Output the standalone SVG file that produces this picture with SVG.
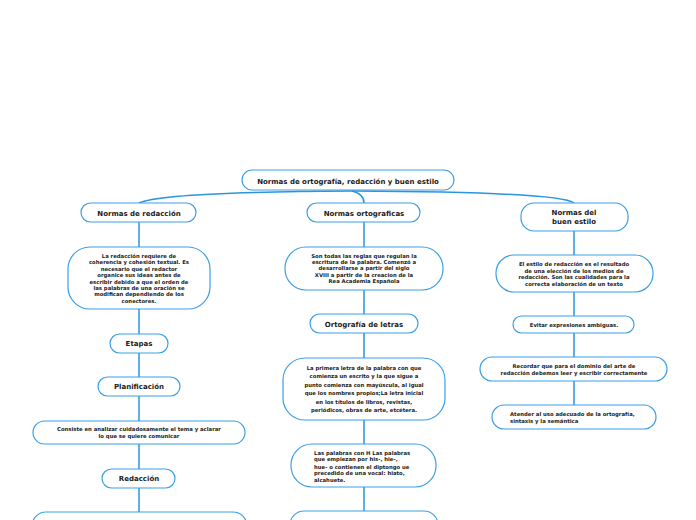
<svg xmlns="http://www.w3.org/2000/svg" width="696" height="520" viewBox="0 0 696 520">
<style>
.n{fill:#fff;stroke:#3a9fe6;stroke-width:1.2}
.c{fill:none;stroke:#2a95de;stroke-width:1.5}
text{font-family:"DejaVu Sans","Verdana",sans-serif;font-weight:bold;fill:#1a1a1a;text-anchor:middle}
.t{font-size:7px}
.s{font-size:5.3px}
.l{text-anchor:start}
</style>
<rect width="696" height="520" fill="#fff"/>
<g id="connectors">
<path class="c" d="M352,191 Q160,192 139,203"/>
<path class="c" d="M352,191 Q364,194 364,203"/>
<path class="c" d="M352,191 Q560,192 574,203"/>
<path class="c" d="M139,222V247M139,309V334M139,353V377M139,396V421M139,444V469M139,488V512"/>
<path class="c" d="M364,222V247M364,290V314M364,333V358M364,420V444M364,487V511"/>
<path class="c" d="M574,231V255M574,292V316M574,333V357M574,381V405"/>
</g>
<g id="root"><rect class="n" x="242" y="170" width="212" height="20" rx="10"/><text class="t" x="348" y="183.5">Normas de ortografía, redacción y buen estilo</text></g>
<g id="redaccion"><rect class="n" x="81" y="203" width="115" height="19" rx="9.5"/><text class="t" x="139" y="215.5">Normas de redacción</text></g>
<g id="ortograficas"><rect class="n" x="307" y="203" width="113" height="19" rx="9.5"/><text class="t" x="364" y="215.5">Normas ortograficas</text></g>
<g id="buenestilo"><rect class="n" x="521" y="203" width="107" height="28" rx="13"/><text class="t" x="574" y="215">Normas del</text><text class="t" x="574" y="224">buen estilo</text></g>
<g id="red-desc"><rect class="n" x="68" y="247" width="142" height="62" rx="22"/>
<text class="s"><tspan x="139" y="258">La redacción requiere de</tspan><tspan x="139" y="264.4">coherencia y cohesión textual. Es</tspan><tspan x="139" y="270.8">necesario que el redactor</tspan><tspan x="139" y="277.2">organice sus ideas antes de</tspan><tspan x="139" y="283.6">escribir debido a que el orden  de</tspan><tspan x="139" y="290">las palabras de una oración se</tspan><tspan x="139" y="296.4">modifican dependiendo de los</tspan><tspan x="139" y="302.8">conectores.</tspan></text></g>
<g id="etapas"><rect class="n" x="110" y="334" width="58" height="19" rx="9.5"/><text class="t" x="139" y="346">Etapas</text></g>
<g id="planificacion"><rect class="n" x="98" y="377" width="82" height="19" rx="9.5"/><text class="t" x="139" y="389">Planificación</text></g>
<g id="plan-desc"><rect class="n" x="33" y="421" width="212" height="23" rx="11.5"/><text class="s"><tspan x="139" y="431">Consiste en analizar cuidadosamente el tema y aclarar</tspan><tspan x="139" y="437.5">lo  que se quiere comunicar</tspan></text></g>
<g id="redaccion2"><rect class="n" x="102" y="469" width="73" height="19" rx="9.5"/><text class="t" x="139" y="481">Redacción</text></g>
<g id="red2-desc"><rect class="n" x="32" y="512" width="215" height="30" rx="14"/></g>
<g id="orto-desc"><rect class="n" x="285" y="247" width="158" height="43" rx="21"/>
<text class="s"><tspan x="364" y="258">Son todas las reglas que regulan la</tspan><tspan x="364" y="264">escritura de la palabra. Comenzó a</tspan><tspan x="364" y="270">desarrollarse a partir del siglo</tspan><tspan x="364" y="276.5">XVIII a partir de la creacion de la</tspan><tspan x="364" y="283">Rea Academia Española</tspan></text></g>
<g id="ortoletras"><rect class="n" x="310" y="314" width="108" height="19" rx="9.5"/><text class="t" x="364" y="326.5">Ortografía de letras</text></g>
<g id="letras-desc"><rect class="n" x="283" y="358" width="162" height="62" rx="22"/>
<text class="s"><tspan x="364" y="370">La primera letra de la palabra con que</tspan><tspan x="364" y="378.4">comienza un escrito y la que sigue a</tspan><tspan x="364" y="386.8">punto comienza con mayúscula, al igual</tspan><tspan x="364" y="395.2">que los nombres propios;La letra inicial</tspan><tspan x="364" y="403.6">en los títulos de libros, revistas,</tspan><tspan x="364" y="412">periódicos, obras de arte, etcétera.</tspan></text></g>
<g id="h-desc"><rect class="n" x="291" y="444" width="145" height="43" rx="21"/>
<text class="s l"><tspan x="314" y="455">Las palabras con H Las palabras</tspan><tspan x="314" y="461">que empiezan por his-, hie-,</tspan><tspan x="314" y="468.5">hue- o contienen el diptongo ue</tspan><tspan x="314" y="474.5">precedido de una vocal: hiato,</tspan><tspan x="314" y="481.5">alcahuete.</tspan></text></g>
<g id="orto-bottom"><rect class="n" x="290" y="511" width="148" height="30" rx="14"/></g>
<g id="estilo-desc"><rect class="n" x="496" y="255" width="157" height="37" rx="18"/>
<text class="s"><tspan x="574" y="266">El estilo de redacción es el resultado</tspan><tspan x="574" y="272.5">de una elección de  los medios de</tspan><tspan x="574" y="279">redacción. Son las cualidades para la</tspan><tspan x="574" y="286">correcta elaboración  de un texto</tspan></text></g>
<g id="evitar"><rect class="n" x="513" y="316" width="121" height="17" rx="8.5"/><text class="s" x="574" y="326.5">Evitar expresiones ambiguas.</text></g>
<g id="recordar"><rect class="n" x="480" y="357" width="187" height="24" rx="12"/><text class="s"><tspan x="574" y="368">Recordar que para el dominio del arte de</tspan><tspan x="574" y="374.5">redacción debemos leer y escribir correctamente</tspan></text></g>
<g id="atender"><rect class="n" x="492" y="405" width="164" height="24" rx="12"/><text class="s l"><tspan x="510" y="416">Atender al uso adecuado de la ortografía,</tspan><tspan x="510" y="422.5">sintaxis y la semántica</tspan></text></g>
</svg>
